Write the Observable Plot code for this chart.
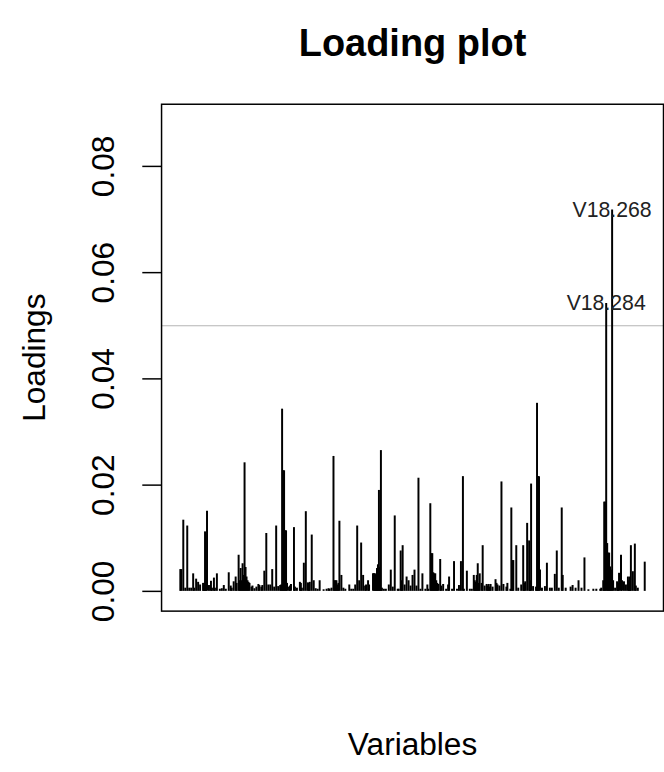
<!DOCTYPE html>
<html><head><meta charset="utf-8">
<script src="https://cdn.jsdelivr.net/npm/d3@7"></script>
<script src="https://cdn.jsdelivr.net/npm/@observablehq/plot@0.6"></script>
<style>
html,body{margin:0;padding:0;background:#fff;overflow:hidden;}
#chart{width:664px;height:772px;overflow:hidden;}
</style></head><body><div id="chart"></div>
<script>
const titleText = "Loading plot";
const xLabel = "Variables";
const yLabel = "Loadings";
const yTicks = [0, 0.02, 0.04, 0.06, 0.08];
const yTickLabels = ["0.00", "0.02", "0.04", "0.06", "0.08"];
const threshold = 0.05;
const labelNames = ["V18.284", "V18.268"]; // variables above threshold, in index order

// [variable index, loading]
const loadingsA = [[1,0.0041],[2,0.0041],[4,0.0134],[6,0.0006],[8,0.0123],[10,0.0006],[12,0.0006],[14,0.0033],[15,0.0006],[17,0.0023],[19,0.0017],[21,0.0012],[24,0.0015],[25,0.0015],[26,0.0112],[27,0.0040],[28,0.0151],[30,0.0011],[32,0.0019],[33,0.0006],[35,0.0025],[36,0.0006],[38,0.0033],[41,0.0004],[43,0.0005],[45,0.0011],[47,0.0004],[50,0.0035],[52,0.0010],[53,0.0006],[55,0.0018],[57,0.0027],[58,0.0015],[60,0.0068],[61,0.0020],[62,0.0043],[63,0.0020],[64,0.0052],[65,0.0030],[66,0.0242],[67,0.0045],[68,0.0027],[69,0.0020],[70,0.0017],[71,0.0015],[73,0.0008],[74,0.0010],[76,0.0005],[78,0.0008],[80,0.0013],[81,0.0011],[83,0.0008],[84,0.0011],[86,0.0038],[88,0.0109],[90,0.0012],[92,0.0012],[94,0.0041],[96,0.0008],[98,0.0123],[100,0.0009],[102,0.0011],[103,0.0012],[104,0.0343],[105,0.0227],[106,0.0227],[107,0.0114],[108,0.0114],[109,0.0015],[111,0.0008],[112,0.0010],[113,0.0013],[116,0.0120],[117,0.0008],[119,0.0006],[122,0.0017],[123,0.0015],[124,0.0006],[126,0.0053],[128,0.0150],[130,0.0016],[131,0.0015],[132,0.0017],[134,0.0106],[136,0.0020],[138,0.0005],[140,0.0004],[142,0.0020],[146,0.0003]];
const loadingsB = [[149,0.0004],[151,0.0005],[152,0.0004],[154,0.0006],[156,0.0254],[157,0.0020],[158,0.0020],[159,0.0020],[160,0.0012],[161,0.0015],[162,0.0132],[164,0.0030],[166,0.0006],[168,0.0004],[172,0.0012],[174,0.0004],[176,0.0004],[178,0.0012],[180,0.0123],[182,0.0020],[184,0.0091],[186,0.0030],[188,0.0010],[189,0.0012],[191,0.0020],[192,0.0012],[196,0.0033],[197,0.0033],[198,0.0033],[199,0.0030],[200,0.0043],[201,0.0050],[202,0.0190],[203,0.0045],[204,0.0265],[205,0.0006],[207,0.0004],[209,0.0004],[212,0.0012],[214,0.0040],[216,0.0008],[218,0.0142],[221,0.0004],[222,0.0004],[224,0.0076],[225,0.0020],[226,0.0086],[228,0.0012],[230,0.0027],[232,0.0020],[234,0.0010],[236,0.0030],[238,0.0040],[240,0.0010],[242,0.0213],[244,0.0004],[246,0.0033],[249,0.0004],[251,0.0012],[252,0.0004],[254,0.0165],[255,0.0071],[256,0.0071],[257,0.0035],[258,0.0033],[259,0.0033],[260,0.0020],[261,0.0015],[262,0.0013],[264,0.0060],[265,0.0010],[267,0.0013],[270,0.0004],[272,0.0012],[273,0.0027],[276,0.0004],[278,0.0056],[281,0.0004],[283,0.0011],[285,0.0056],[287,0.0216],[288,0.0004],[291,0.0038],[294,0.0004],[296,0.0004],[298,0.0030],[299,0.0020],[300,0.0017],[301,0.0030],[302,0.0052],[303,0.0015],[304,0.0033],[306,0.0015],[307,0.0086]];
const loadingsC = [[309,0.0010],[311,0.0013],[312,0.0010],[313,0.0013],[314,0.0008],[315,0.0013],[317,0.0008],[320,0.0022],[321,0.0015],[322,0.0012],[324,0.0010],[326,0.0206],[328,0.0013],[331,0.0008],[332,0.0015],[335,0.0004],[336,0.0157],[337,0.0058],[338,0.0058],[341,0.0086],[343,0.0006],[346,0.0012],[348,0.0086],[349,0.0015],[350,0.0018],[352,0.0128],[354,0.0095],[355,0.0020],[356,0.0202],[358,0.0009],[361,0.0008],[362,0.0354],[363,0.0216],[364,0.0216],[365,0.0040],[367,0.0006],[370,0.0009],[372,0.0053],[375,0.0006],[377,0.0006],[380,0.0032],[382,0.0076],[384,0.0006],[387,0.0157],[388,0.0030],[391,0.0006],[396,0.0008],[398,0.0011],[401,0.0006],[404,0.0020],[407,0.0006],[410,0.0063],[414,0.0003],[419,0.0004],[422,0.0004],[426,0.0004],[427,0.0006],[429,0.0020],[430,0.0168],[431,0.0168],[432,0.0542],[433,0.0090],[434,0.0072],[435,0.0072],[436,0.0046],[437,0.0040],[438,0.0718],[439,0.0020],[441,0.0006],[443,0.0018],[444,0.0015],[445,0.0034],[447,0.0068],[448,0.0020],[450,0.0018],[452,0.0012],[454,0.0027],[455,0.0020],[456,0.0027],[457,0.0086],[459,0.0037],[461,0.0089],[462,0.0010],[464,0.0006],[471,0.0055]];

const data = [...loadingsA, ...loadingsB, ...loadingsC].map(([i, v]) => ({i, v}));
const flagged = data.filter(d => d.v > threshold).sort((a, b) => a.i - b.i)
  .map((d, k) => ({...d, name: labelNames[k]}));

const font = "'Liberation Sans', Arial, sans-serif";
const plot = Plot.plot({
  width: 672, height: 772,
  marginTop: 105, marginBottom: 154, marginLeft: 163, marginRight: 1,
  x: {domain: [-18, 490], axis: null},
  y: {domain: [-0.00372, 0.0917], axis: null},
  style: {fontFamily: font, background: "#fff", color: "#000"},
  marks: [
    Plot.ruleY([threshold], {stroke: "#b4b4b4", strokeWidth: 1.2}),
    Plot.ruleX(data, {x: "i", y1: 0, y2: "v", stroke: "#000", strokeWidth: 2}),
    Plot.text(flagged, {x: "i", y: "v", text: "name", fontSize: 21.5, fill: "#222"}),
    Plot.frame({stroke: "#000", strokeWidth: 1.5}),
    Plot.axisY(yTicks, {tickSize: 19, tickFormat: () => "", label: null, strokeWidth: 1.5}),
    Plot.text(yTicks, {y: d => d, text: (d, i) => yTickLabels[i], frameAnchor: "left", textAnchor: "middle", lineAnchor: "middle", dx: -58, rotate: -90, fontSize: 32, fill: "#000"}),
    Plot.text([yLabel], {frameAnchor: "left", textAnchor: "middle", lineAnchor: "middle", dx: -128, rotate: -90, fontSize: 32, fill: "#000"}),
    Plot.text([xLabel], {frameAnchor: "bottom", textAnchor: "middle", lineAnchor: "middle", dy: 135, fontSize: 32, fill: "#000"}),
    Plot.text([titleText], {frameAnchor: "top", textAnchor: "middle", lineAnchor: "middle", dy: -61, fontSize: 38.4, fontWeight: "bold", fill: "#000"})
  ]
});
document.getElementById("chart").appendChild(plot);
</script></body></html>
